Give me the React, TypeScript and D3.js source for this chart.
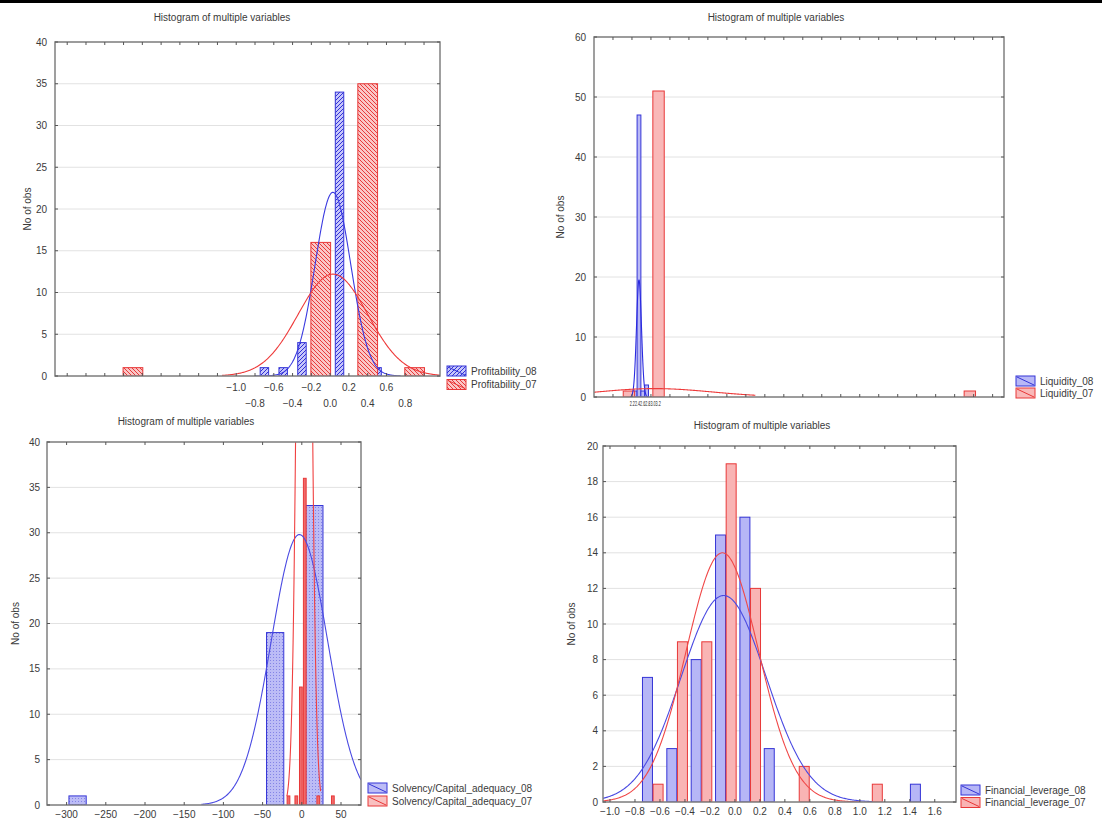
import React from 'react';
import * as d3 from 'd3';

const TITLE = 'Histogram of multiple variables';
const Y_TITLE = 'No of obs';

// ---- Panel 1: Profitability ----
const profitLabels = ['Profitability_08', 'Profitability_07'];
const profit08Bins = [-0.7, -0.5, -0.3, 0.1, 0.5];
const profit08Counts = [1, 1, 4, 34, 1];
const profit07Bins = [-2.1, -0.1, 0.4, 0.9];
const profit07Counts = [1, 16, 35, 1];
// mean, sd, peak, from, to
const profit08Fit = [0.03, 0.19, 22, -0.8, 0.75];
const profit07Fit = [0.03, 0.37, 12.2, -1.15, 1.17];
const profitXLabels = [-1.0, -0.8, -0.6, -0.4, -0.2, 0.0, 0.2, 0.4, 0.6, 0.8];
const profitYTicks = [0, 5, 10, 15, 20, 25, 30, 35, 40];

// ---- Panel 2: Liquidity ----
const liqLabels = ['Liquidity_08', 'Liquidity_07'];
const liq08Bins = [2.17, 2.37, 2.57, 2.77];
const liq08Counts = [1, 47, 1, 2];
const liq07Bins = [1.84, 3.4, 19.8];
const liq07Counts = [1, 51, 1];
const liq08Fit = [2.37, 0.13, 19.5, 1.9, 2.85];
const liq07Fit = [3.2, 3.0, 1.4, 0, 8.5];
const liqXLabels = [2.2, 2.4, 2.6, 2.8, 3.0, 3.2];
const liqYTicks = [0, 10, 20, 30, 40, 50, 60];

// ---- Panel 3: Solvency ----
const solvLabels = ['Solvency/Capital_adequacy_08', 'Solvency/Capital_adequacy_07'];
const solv08Bins = [-286, -34, 16];
const solv08Counts = [1, 19, 33];
const solv07Bins = [-17, -7, -1.2, 3.8, 21, 39.6];
const solv07Counts = [1, 1, 13, 36, 1, 1];
const solv08Fit = [-3, 36, 29.8, -128, 75.5];
const solv07Fit = [3, 7, 137, -19, 24];
const solvXLabels = [-300, -250, -200, -150, -100, -50, 0, 50];
const solvYTicks = [0, 5, 10, 15, 20, 25, 30, 35, 40];

// ---- Panel 4: Financial leverage ----
const levLabels = ['Financial_leverage_08', 'Financial_leverage_07'];
const lev08Bins = [-0.7, -0.505, -0.31, -0.115, 0.08, 0.275, 1.445];
const lev08Counts = [7, 3, 8, 15, 16, 3, 1];
const lev07Bins = [-0.615, -0.42, -0.225, -0.03, 0.165, 0.555, 1.14];
const lev07Counts = [1, 9, 9, 19, 12, 2, 1];
const lev08Fit = [-0.09, 0.34, 11.6, -1.056, 1.1];
const lev07Fit = [-0.1, 0.29, 14, -1.056, 1.0];
const levXLabels = [-1.0, -0.8, -0.6, -0.4, -0.2, 0.0, 0.2, 0.4, 0.6, 0.8, 1.0, 1.2, 1.4, 1.6];
const levYTicks = [0, 2, 4, 6, 8, 10, 12, 14, 16, 18, 20];

const BLUE = '#3434d6';
const RED = '#e83838';
const FONT = 'Liberation Sans, Arial, sans-serif';

type Series = {
  bins: number[]; counts: number[]; fit: number[]; width: number;
  fill: string; stroke: string; label: string; legendFill: string; curve: string;
};
type Panel = {
  id: string; x0: number; x1: number; y0: number; y1: number;
  xDomain: [number, number]; yMax: number; yTicks: number[];
  xTicks: number[]; xLabels: number[]; labelFmt: (v: number) => string;
  labelRows: number[]; labelFont: number; squashLabels?: boolean;
  titleX: number; titleY: number; yTitleX: number; yLabelX: number;
  legendX: number; legendY: number; legendDy: number;
  series: Series[];
};

const f1 = d3.format('.1f');
const f0 = d3.format('d');

const panels: Panel[] = [
  {
    id: 'p1', x0: 55, x1: 440, y0: 42, y1: 376,
    xDomain: [-2.93, 1.17], yMax: 40, yTicks: profitYTicks,
    xTicks: d3.range(-28, 11, 2).map((v) => v / 10), xLabels: profitXLabels, labelFmt: f1,
    labelRows: [391, 407], labelFont: 10,
    titleX: 222, titleY: 21, yTitleX: 31, yLabelX: 47,
    legendX: 447, legendY: 366, legendDy: 13.5,
    series: [
      { bins: profit08Bins, counts: profit08Counts, fit: profit08Fit, width: 0.09, fill: 'url(#hatchBlue)', stroke: BLUE, label: profitLabels[0], legendFill: 'url(#hatchBlue)', curve: '#3a3ae0' },
      { bins: profit07Bins, counts: profit07Counts, fit: profit07Fit, width: 0.21, fill: 'url(#hatchRed)', stroke: RED, label: profitLabels[1], legendFill: 'url(#hatchRed)', curve: '#ee3a3a' },
    ],
  },
  {
    id: 'p2', x0: 594, x1: 1004, y0: 37, y1: 397,
    xDomain: [0, 21.6], yMax: 60, yTicks: liqYTicks,
    xTicks: d3.range(1, 22, 1), xLabels: liqXLabels, labelFmt: f1,
    labelRows: [406], labelFont: 8, squashLabels: true,
    titleX: 776, titleY: 21, yTitleX: 564, yLabelX: 586,
    legendX: 1016, legendY: 376, legendDy: 12,
    series: [
      { bins: liq08Bins, counts: liq08Counts, fit: liq08Fit, width: 0.2, fill: '#b8b8f6', stroke: BLUE, label: liqLabels[0], legendFill: '#b8b8f6', curve: '#2a2ae0' },
      { bins: liq07Bins, counts: liq07Counts, fit: liq07Fit, width: 0.6, fill: '#f9b8b8', stroke: RED, label: liqLabels[1], legendFill: '#f9b8b8', curve: '#ee3a3a' },
    ],
  },
  {
    id: 'p3', x0: 47, x1: 361, y0: 442, y1: 805,
    xDomain: [-325, 75.5], yMax: 40, yTicks: solvYTicks,
    xTicks: solvXLabels, xLabels: solvXLabels, labelFmt: f0,
    labelRows: [818], labelFont: 10,
    titleX: 186, titleY: 425, yTitleX: 19, yLabelX: 40,
    legendX: 368, legendY: 783, legendDy: 13,
    series: [
      { bins: solv08Bins, counts: solv08Counts, fit: solv08Fit, width: 22, fill: 'url(#dotBlue)', stroke: BLUE, label: solvLabels[0], legendFill: '#bcbcf6', curve: '#4a4ae2' },
      { bins: solv07Bins, counts: solv07Counts, fit: solv07Fit, width: 3.5, fill: '#f06a6a', stroke: RED, label: solvLabels[1], legendFill: '#f9c0c0', curve: '#f04040' },
    ],
  },
  {
    id: 'p4', x0: 603, x1: 956, y0: 446, y1: 802,
    xDomain: [-1.056, 1.77], yMax: 20, yTicks: levYTicks,
    xTicks: levXLabels, xLabels: levXLabels, labelFmt: f1,
    labelRows: [815], labelFont: 10,
    titleX: 762, titleY: 429, yTitleX: 575, yLabelX: 598,
    legendX: 961, legendY: 785, legendDy: 12.5,
    series: [
      { bins: lev08Bins, counts: lev08Counts, fit: lev08Fit, width: 0.08, fill: '#b6b6f6', stroke: BLUE, label: levLabels[0], legendFill: '#b6b6f6', curve: '#4a4ae2' },
      { bins: lev07Bins, counts: lev07Counts, fit: lev07Fit, width: 0.08, fill: '#f9b4b4', stroke: RED, label: levLabels[1], legendFill: '#f9b4b4', curve: '#f04848' },
    ],
  },
];

function PanelView({ p }: { p: Panel }) {
  const x = d3.scaleLinear().domain(p.xDomain).range([p.x0, p.x1]);
  const y = d3.scaleLinear().domain([0, p.yMax]).range([p.y1, p.y0]);
  const line = d3.line<[number, number]>().x((d) => x(d[0])).y((d) => y(d[1])).curve(d3.curveLinear);
  const fitPts = (fit: number[]): [number, number][] => {
    const [m, s, peak, from, to] = fit;
    const n = 300;
    return d3.range(n + 1).map((i) => {
      const v = from + ((to - from) * i) / n;
      return [v, peak * Math.exp(-((v - m) * (v - m)) / (2 * s * s))];
    });
  };
  const textStyle = { fontFamily: FONT, fill: '#3a3a3a' } as const;
  let xLabelNodes: React.ReactNode;
  if (p.squashLabels) {
    // the reference prints these tick labels on top of each other: one squashed run
    const first = p.xLabels[0];
    const last = p.xLabels[p.xLabels.length - 1];
    const xa = x(first) - 6;
    const xb = x(last) + 6;
    xLabelNodes = (
      <text x={xa} y={p.labelRows[0]} fontSize={p.labelFont} textLength={xb - xa}
        lengthAdjust="spacingAndGlyphs" style={{ ...textStyle, fill: '#222' }}>
        {p.xLabels.map((t) => p.labelFmt(t)).join('')}
      </text>
    );
  } else {
    xLabelNodes = p.xLabels.map((t, i) => (
      <text key={`xl${i}`} x={x(t)} y={p.labelRows[i % p.labelRows.length]} textAnchor="middle"
        fontSize={p.labelFont} style={textStyle}>{p.labelFmt(t)}</text>
    ));
  }
  return (
    <g>
      <clipPath id={`clip-${p.id}`}>
        <rect x={p.x0} y={p.y0} width={p.x1 - p.x0} height={p.y1 - p.y0} />
      </clipPath>
      <text x={p.titleX} y={p.titleY} textAnchor="middle" fontSize={10} style={textStyle}>{TITLE}</text>
      {p.yTicks.map((t) => (
        <line key={`g${t}`} x1={p.x0} x2={p.x1} y1={y(t)} y2={y(t)} stroke="#e2e2e2" strokeWidth={1} />
      ))}
      <g clipPath={`url(#clip-${p.id})`}>
        {p.series.map((s, si) => (
          <g key={`s${si}`}>
            {s.bins.map((b, i) => (
              <rect key={i} x={x(b - s.width / 2)} y={y(s.counts[i])}
                width={Math.max(1, x(b + s.width / 2) - x(b - s.width / 2))}
                height={y(0) - y(s.counts[i])}
                fill={s.fill} stroke={s.stroke} strokeWidth={1} />
            ))}
          </g>
        ))}
        {p.series.map((s, si) => (
          <path key={`c${si}`} d={line(fitPts(s.fit)) || ''} fill="none" stroke={s.curve} strokeWidth={1.1} />
        ))}
      </g>
      <rect x={p.x0} y={p.y0} width={p.x1 - p.x0} height={p.y1 - p.y0} fill="none" stroke="#808080" strokeWidth={1.5} />
      {p.xTicks.map((t, i) => (
        <g key={`xt${i}`}>
          <line x1={x(t)} x2={x(t)} y1={p.y1} y2={p.y1 - 3} stroke="#555" />
          <line x1={x(t)} x2={x(t)} y1={p.y0} y2={p.y0 + 3} stroke="#555" />
        </g>
      ))}
      {p.yTicks.map((t) => (
        <g key={`yt${t}`}>
          <line x1={p.x0} x2={p.x0 + 3} y1={y(t)} y2={y(t)} stroke="#555" />
          <line x1={p.x1} x2={p.x1 - 3} y1={y(t)} y2={y(t)} stroke="#555" />
          <text x={p.yLabelX} y={y(t) + 3.5} textAnchor="end" fontSize={10} style={textStyle}>{t}</text>
        </g>
      ))}
      {xLabelNodes}
      <text transform={`translate(${p.yTitleX},${(p.y0 + p.y1) / 2}) rotate(-90)`} textAnchor="middle"
        fontSize={10} style={textStyle}>{Y_TITLE}</text>
      {p.series.map((s, si) => {
        const ly = p.legendY + si * p.legendDy;
        return (
          <g key={`lg${si}`}>
            <rect x={p.legendX} y={ly} width={19} height={10} fill={s.legendFill} stroke={s.stroke} strokeWidth={1} />
            <line x1={p.legendX + 1} y1={ly + 1} x2={p.legendX + 18} y2={ly + 9} stroke={s.stroke} strokeWidth={1} />
            <text x={p.legendX + 24} y={ly + 8.5} fontSize={10} style={textStyle}>{s.label}</text>
          </g>
        );
      })}
    </g>
  );
}

export default function App() {
  return (
    <svg width={1102} height={821} style={{ position: 'absolute', left: 0, top: 0, background: '#fff' }}>
      <defs>
        <pattern id="hatchBlue" patternUnits="userSpaceOnUse" width={4} height={4}>
          <rect width={4} height={4} fill="#c6c6fa" />
          <path d="M-1,1 l2,-2 M0,4 l4,-4 M3,5 l2,-2" stroke="#3030d6" strokeWidth={1} />
        </pattern>
        <pattern id="hatchRed" patternUnits="userSpaceOnUse" width={4} height={4}>
          <rect width={4} height={4} fill="#fac6c6" />
          <path d="M-1,3 l2,2 M0,0 l4,4 M3,-1 l2,2" stroke="#e83a3a" strokeWidth={1} />
        </pattern>
        <pattern id="dotBlue" patternUnits="userSpaceOnUse" width={3} height={3}>
          <rect width={3} height={3} fill="#bcbcf6" />
          <rect width={1} height={1} fill="#8484e6" />
        </pattern>
      </defs>
      <rect x={0} y={0} width={1102} height={821} fill="#fff" />
      <rect x={0} y={0} width={1102} height={3} fill="#000" />
      {panels.map((p) => (
        <PanelView key={p.id} p={p} />
      ))}
    </svg>
  );
}
